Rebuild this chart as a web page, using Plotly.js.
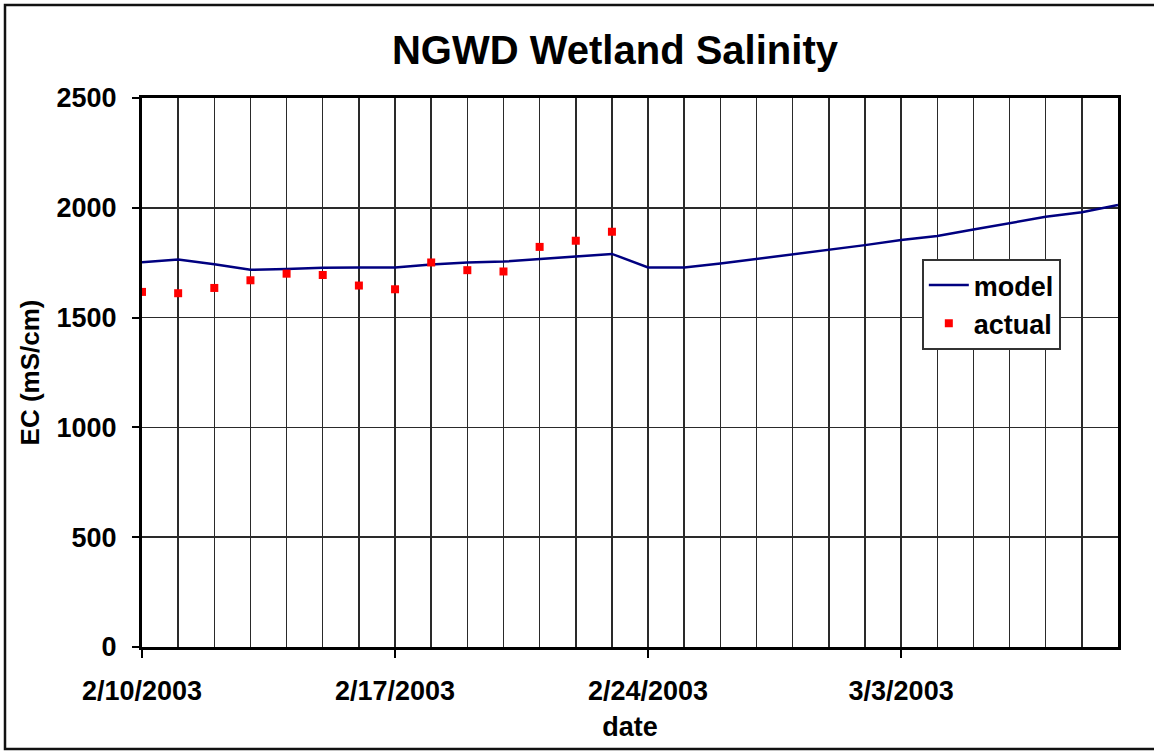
<!DOCTYPE html>
<html>
<head>
<meta charset="utf-8">
<script src="https://cdn.plot.ly/plotly-3.0.1.min.js"></script>
<style>
html,body{margin:0;padding:0;background:#fff;}
#chart{width:1154px;height:751px;}
</style>
</head>
<body>
<div id="chart"></div>
<script>
const modelDates = ['2003-02-10','2003-02-11','2003-02-12','2003-02-13','2003-02-14','2003-02-15','2003-02-16','2003-02-17','2003-02-18','2003-02-19','2003-02-20','2003-02-21','2003-02-22','2003-02-23','2003-02-24','2003-02-25','2003-02-26','2003-02-27','2003-02-28','2003-03-01','2003-03-02','2003-03-03','2003-03-04','2003-03-05','2003-03-06','2003-03-07','2003-03-08','2003-03-09'];
const modelValues = [1752,1765,1743,1718,1721,1727,1728,1728,1742,1751,1755,1767,1778,1790,1728,1728,1746,1767,1785,1808,1830,1853,1872,1901,1930,1959,1980,2013];
const actualDates = ['2003-02-10','2003-02-11','2003-02-12','2003-02-13','2003-02-14','2003-02-15','2003-02-16','2003-02-17','2003-02-18','2003-02-19','2003-02-20','2003-02-21','2003-02-22','2003-02-23'];
const actualValues = [1617,1611,1635,1670,1700,1694,1646,1629,1751,1716,1710,1822,1850,1891];
const xTickDates = ['2003-02-10','2003-02-17','2003-02-24','2003-03-03'];
const xTickLabels = ['2/10/2003','2/17/2003','2/24/2003','3/3/2003'];
const yTicks = [0,500,1000,1500,2000,2500];

const FONT = 'Liberation Sans, Arial, sans-serif';
const DAY = 86400000;
const GRID = '#2a2a2a';

const traces = [
  {x: modelDates, y: modelValues, name: 'model', type: 'scatter', mode: 'lines',
   line: {color: '#000080', width: 2.5}},
  {x: actualDates, y: actualValues, name: 'actual', type: 'scatter', mode: 'markers',
   marker: {color: '#ff0000', symbol: 'square', size: 8}}
];

const layout = {
  width: 1154, height: 751,
  paper_bgcolor: '#ffffff', plot_bgcolor: '#ffffff',
  margin: {l: 142, r: 36, t: 98, b: 104, pad: 0},
  font: {family: FONT, color: '#000', size: 27, weight: 'bold'},
  title: {text: '<b>NGWD Wetland Salinity</b>', font: {family: FONT, size: 40, color: '#000'},
          x: 0.4846, xref: 'paper', xanchor: 'center', y: 1 - 50/751, yref: 'container', yanchor: 'middle'},
  xaxis: {
    type: 'date', range: ['2003-02-10', '2003-03-09'],
    tickmode: 'array', tickvals: xTickDates, ticktext: xTickLabels,
    ticks: 'outside', ticklen: 8, tickwidth: 2, tickcolor: '#000',
    showgrid: true, gridcolor: GRID, gridwidth: 1.5,
    minor: {dtick: DAY, tick0: '2003-02-10', showgrid: true, gridcolor: GRID, gridwidth: 1.5, ticks: ''},
    showline: true, linecolor: '#000', linewidth: 3, mirror: true,
    tickfont: {family: FONT, size: 27, color: '#000', weight: 'bold'},
    ticklabelstandoff: 10,
    title: {text: '<b>date</b>', font: {family: FONT, size: 27, color: '#000'}, standoff: 12},
    zeroline: false, fixedrange: true
  },
  yaxis: {
    range: [0, 2500], tickmode: 'array', tickvals: yTicks,
    ticks: 'outside', ticklen: 7, tickwidth: 2, tickcolor: '#000',
    showgrid: true, gridcolor: GRID, gridwidth: 1.5,
    showline: true, linecolor: '#000', linewidth: 3, mirror: true,
    tickfont: {family: FONT, size: 27, color: '#000', weight: 'bold'},
    ticklabelstandoff: 10,
    title: {text: '<b>EC (mS/cm)</b>', font: {family: FONT, size: 26, color: '#000'}, standoff: 10},
    zeroline: false, fixedrange: true
  },
  legend: {
    x: 0.799, y: (647-259)/549, xanchor: 'left', yanchor: 'top',
    bgcolor: '#ffffff', bordercolor: '#333', borderwidth: 2,
    font: {family: FONT, size: 27, color: '#000', weight: 'bold'},
    tracegroupgap: 0, itemwidth: 40
  },
  shapes: [
    {type: 'rect', xref: 'paper', yref: 'paper',
     x0: (5-142)/976, x1: (1170-142)/976, y0: (647-749)/549, y1: (647-5)/549,
     line: {color: '#111', width: 2.5}, fillcolor: 'rgba(0,0,0,0)', layer: 'below'}
  ],
  showlegend: true
};

Plotly.newPlot('chart', traces, layout, {displayModeBar: false, staticPlot: true});
</script>
</body>
</html>
